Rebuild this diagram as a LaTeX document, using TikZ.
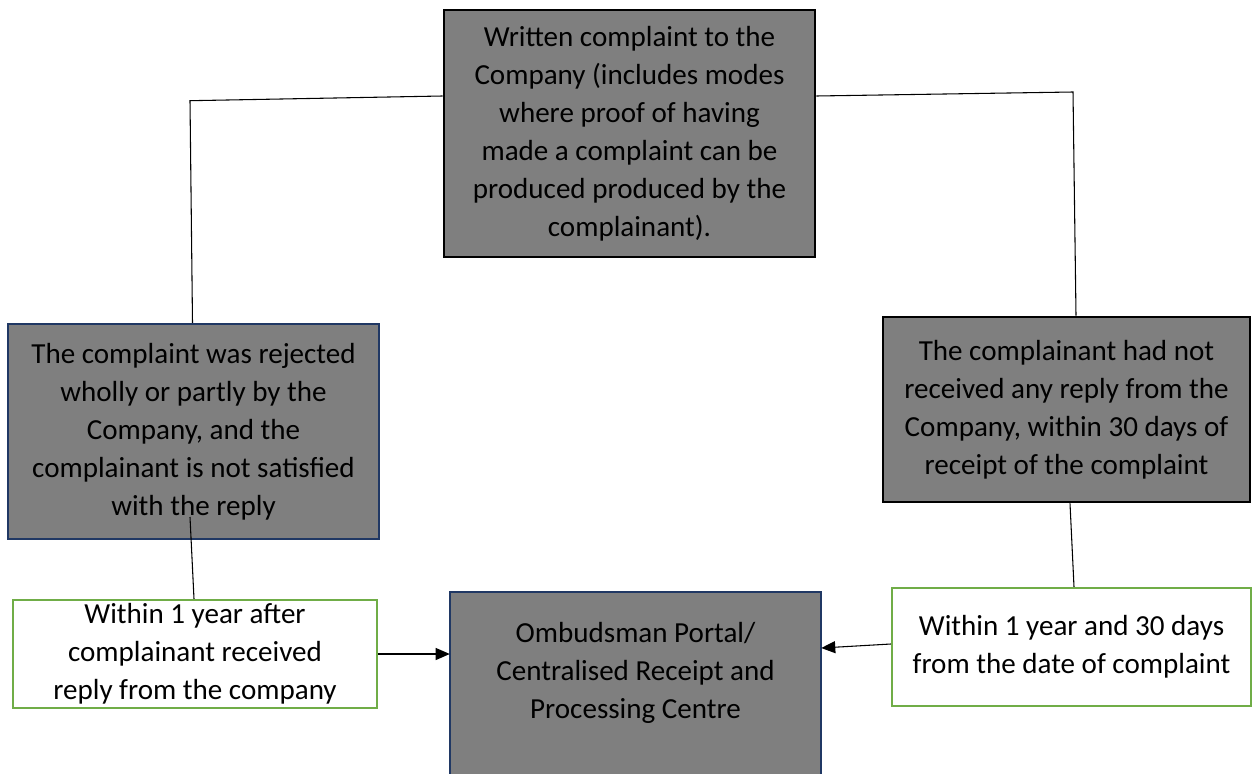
\documentclass[tikz,border=0pt]{standalone}
\usepackage{fontspec}
\setmainfont{Carlito}
\usetikzlibrary{arrows.meta}
\definecolor{boxgray}{HTML}{7F7F7F}
\definecolor{navyline}{HTML}{203864}
\definecolor{greenline}{HTML}{70AD47}
\tikzset{
  base/.style={rectangle, align=center, inner sep=0pt, text=black},
  blackbox/.style={base, draw=black, line width=2.2pt, fill=boxgray},
  navybox/.style={base, draw=navyline, line width=1.6pt, fill=boxgray},
  greenbox/.style={base, draw=greenline, line width=1.6pt, fill=white},
  loose/.style={font=\fontsize{21.8}{28.5}\selectfont},
  conn/.style={draw=black, line width=0.8pt},
  arr/.style={conn, -{Triangle[length=10.5pt,width=9pt]}}
}
\begin{document}
\begin{tikzpicture}[x=0.75pt,y=-0.75pt]
\useasboundingbox (0,0) rectangle (1252,774);
% portal box extends past the bottom edge
\draw[draw=navyline, line width=1.6pt, fill=boxgray] (450,592) rectangle (821,800);

\node[blackbox, loose, minimum width=278.25pt, minimum height=185.25pt] (top) at (629.5,133.5)
  {Written complaint to the\\Company (includes modes\\where proof of having\\made a complaint can be\\produced produced by the\\complainant).};
\node[navybox, loose, minimum width=278.25pt, minimum height=161.25pt] (rej) at (193.5,431.5)
  {The complaint was rejected\\wholly or partly by the\\Company, and the\\complainant is not satisfied\\with the reply};
\node[blackbox, loose, minimum width=275.25pt, minimum height=138.75pt] (norep) at (1066.5,409.5)
  {The complainant had not\\received any reply from the\\Company, within 30 days of\\receipt of the complaint};
\node[greenbox, loose, minimum width=273pt, minimum height=81pt] (bl) at (195,654)
  {Within 1 year after\\complainant received\\reply from the company};
\node[base, loose, minimum width=278.25pt, minimum height=121.5pt] (portal) at (635.5,673)
  {Ombudsman Portal/\\Centralised Receipt and\\Processing Centre};
\node[greenbox, loose, minimum width=269.25pt, minimum height=88.5pt] (br) at (1071.5,647)
  {Within 1 year and 30 days\\from the date of complaint};

\coordinate (bendL) at (190,100.7);
\coordinate (bendR) at (1073,92);
\coordinate (rejtail) at (190,517);

\draw[conn] (top.west |- 0,96) -- (bendL) -- (rej.north -| 192.5,0);
\draw[conn] (top.east |- 0,96) -- (bendR) -- (norep.north -| 1076,0);
\draw[conn] (rejtail) -- (bl.north -| 194,0);
\draw[conn] (norep.south -| 1070,0) -- (br.north -| 1074,0);
\draw[arr] (bl.east) -- (portal.west |- bl.east);
\draw[arr] (br.west |- 0,644) -- (portal.east |- 0,648);
\end{tikzpicture}
\end{document}
